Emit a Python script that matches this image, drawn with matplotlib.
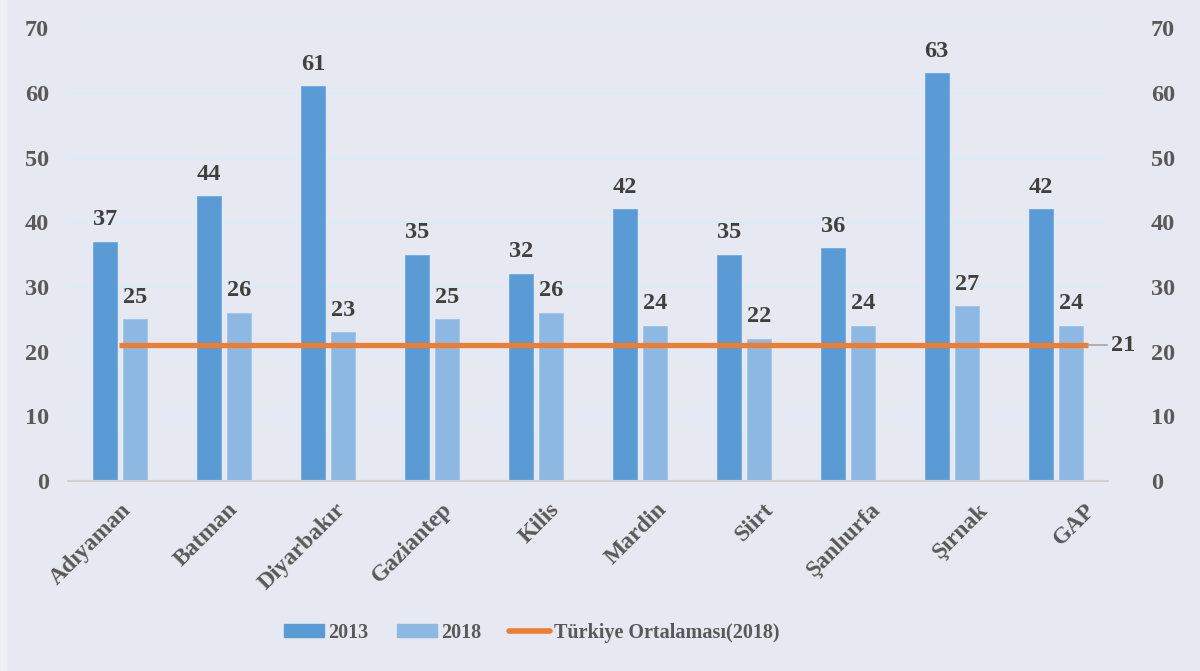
import numpy as np
import matplotlib.pyplot as plt
import matplotlib.transforms as mtransforms
from matplotlib.patches import Patch, Rectangle
from matplotlib.lines import Line2D

plt.rcParams['font.family'] = ['Liberation Serif', 'DejaVu Serif']
plt.rcParams['font.weight'] = 'bold'

provinces = ['Adıyaman', 'Batman', 'Diyarbakır', 'Gaziantep', 'Kilis',
             'Mardin', 'Siirt', 'Şanlıurfa', 'Şırnak', 'GAP']
v2013 = [37, 44, 61, 35, 32, 42, 35, 36, 63, 42]
v2018 = [25, 26, 23, 25, 26, 24, 22, 24, 27, 24]
turkey_avg = 21

bg = '#E7E9F2'
c13 = '#5B9BD5'
c18 = '#8DB8E2'
corange = '#ED7D31'
tick_col = '#595959'
lab_col = '#404040'

fig = plt.figure(figsize=(12, 6.71), dpi=100, facecolor=bg)
# thin lighter strip on the left edge
fig.patches.append(Rectangle((0, 0), 0.005, 1, transform=fig.transFigure,
                             color='#EEF0F6', zorder=0))
ax = fig.add_axes([0.057, 0.283, 0.866, 0.675])
ax.set_facecolor(bg)

x = np.arange(len(provinces))
w = 0.23
off = 0.145
ax.bar(x - off, v2013, w, color=c13, edgecolor='#6FA8DC', linewidth=0.6, zorder=2)
ax.bar(x + off, v2018, w, color=c18, edgecolor='#9FC4E8', linewidth=0.6, zorder=2)

for xi, v in zip(x, v2013):
    ax.text(xi - off, v + 1.8, str(v), ha='center', va='bottom', fontsize=17.5,
            color=lab_col, fontweight='bold')
for xi, v in zip(x, v2018):
    ax.text(xi + off, v + 1.8, str(v), ha='center', va='bottom', fontsize=17.5,
            color=lab_col, fontweight='bold')

# Türkiye average line
ax.plot([-0.01, 9.31], [turkey_avg, turkey_avg], color=corange, lw=3.8, zorder=3,
        solid_capstyle='butt')
ax.plot([9.31, 9.49], [turkey_avg, turkey_avg], color='#A6A6A6', lw=1.2, zorder=3)
ax.text(9.53, turkey_avg, str(turkey_avg), ha='left', va='center', fontsize=17.5,
        color=lab_col, fontweight='bold')

ax.set_xlim(-0.5, 9.5)
ax.set_ylim(0, 70)
ax.set_yticks(range(0, 71, 10))
ax.grid(axis='y', color='#DDEBF7', lw=1.5, zorder=0)
ax.set_axisbelow(True)
for s in ['top', 'right', 'left']:
    ax.spines[s].set_visible(False)
ax.spines['bottom'].set_color('#D0D0D0')
ax.spines['bottom'].set_linewidth(1.5)

ax.tick_params(axis='both', length=0, labelsize=17.5, labelcolor=tick_col)
ax.tick_params(axis='y', pad=14)
ax.set_xticks(x)
ax.set_xticklabels(provinces, rotation=45, ha='right', rotation_mode='anchor',
                   fontsize=17)
ax.tick_params(axis='x', pad=13)
# category labels drift slightly right across the axis in the original
for i, lbl in enumerate(ax.get_xticklabels()):
    shift = mtransforms.ScaledTranslation(3.2 * i / 100, 0, fig.dpi_scale_trans)
    lbl.set_transform(lbl.get_transform() + shift)

ax2 = ax.twinx()
ax2.set_ylim(0, 70)
ax2.set_yticks(range(0, 71, 10))
ax2.tick_params(axis='y', length=0, labelsize=17.5, labelcolor=tick_col, pad=31)
for s in ax2.spines.values():
    s.set_visible(False)

handles = [Patch(facecolor=c13, edgecolor=c13),
           Patch(facecolor=c18, edgecolor=c18),
           Line2D([0], [0], color=corange, lw=4, solid_capstyle='round')]
fig.legend(handles, ['2013', '2018', 'Türkiye Ortalaması(2018)'],
           loc='center', bbox_to_anchor=(0.443, 0.057), ncol=3, frameon=False,
           fontsize=14.5, labelcolor=tick_col, handlelength=2.0, handleheight=0.6,
           handletextpad=0.2, columnspacing=1.4)

fig.savefig('out.png', dpi=100, facecolor=bg)
